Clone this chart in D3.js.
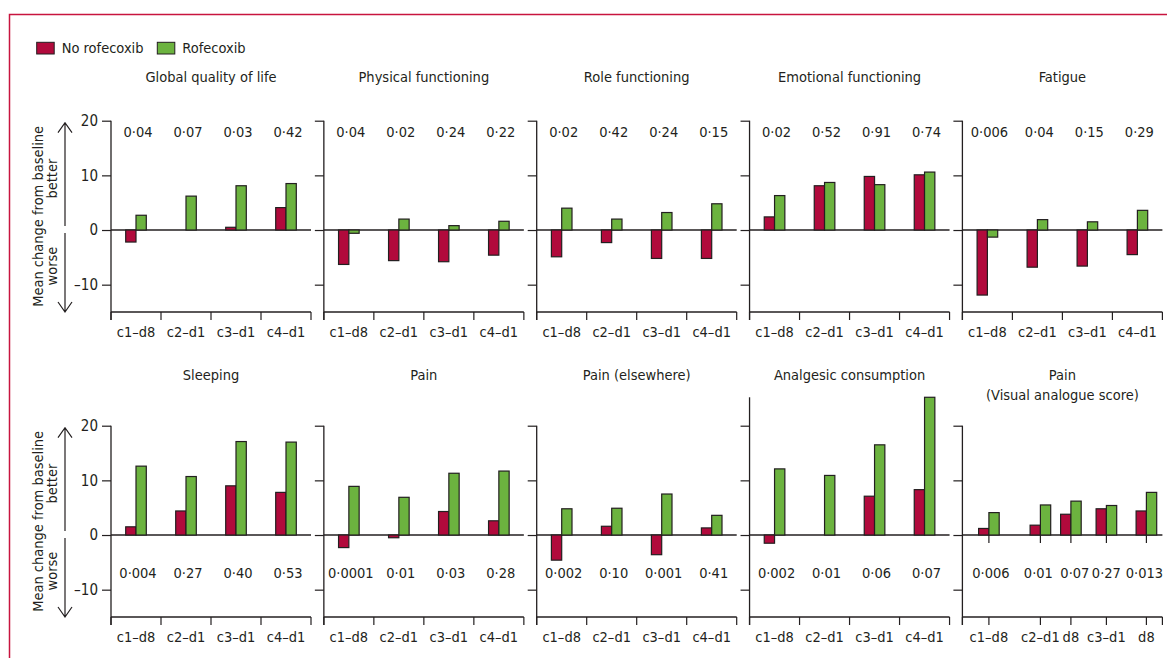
<!DOCTYPE html>
<html>
<head>
<meta charset="utf-8">
<script src="https://cdn.jsdelivr.net/npm/d3@7"></script>
<style>
  body { margin: 0; background: #fff; }
  text { font-family: "DejaVu Sans Condensed", "DejaVu Sans", sans-serif; font-stretch: condensed; font-size: 14.5px; fill: #231f20; }
</style>
</head>
<body>
<div id="chart"></div>
<script>
// categories on the x axis
const categories = ["c1–d8", "c2–d1", "c3–d1", "c4–d1"];
// the VAS panel has its own time points (position in category units, 0-4)
const vasCategories = ["c1–d8", "c2–d1", "d8", "c3–d1", "d8"];
const vasPositions = [0.53, 1.56, 2.17, 2.88, 3.68];

const titles = [
    "Global quality of life", "Physical functioning", "Role functioning", "Emotional functioning", "Fatigue",
    "Sleeping", "Pain", "Pain (elsewhere)", "Analgesic consumption", "Pain|(Visual analogue score)"
];

const noRofecoxib = [
    [-2.2, 0, 0.5, 4.1],
    [-6.3, -5.6, -5.8, -4.6],
    [-4.9, -2.3, -5.2, -5.2],
    [2.4, 8.1, 9.8, 10.1],
    [-11.9, -6.8, -6.6, -4.5],
    [1.5, 4.4, 9.0, 7.8],
    [-2.3, -0.5, 4.3, 2.6],
    [-4.6, 1.6, -3.6, 1.3],
    [-1.5, 0, 7.1, 8.3],
    [1.2, 1.8, 3.8, 4.8, 4.4]
];

const rofecoxib = [
    [2.7, 6.2, 8.1, 8.5],
    [-0.6, 2.0, 0.8, 1.6],
    [4.0, 2.0, 3.2, 4.8],
    [6.3, 8.7, 8.3, 10.6],
    [-1.3, 1.9, 1.5, 3.6],
    [12.6, 10.7, 17.1, 17.0],
    [8.9, 6.9, 11.3, 11.7],
    [4.8, 4.9, 7.5, 3.6],
    [12.1, 10.9, 16.5, 25.2],
    [4.1, 5.5, 6.2, 5.4, 7.8]
];

const pValues = [
    ["0·04", "0·07", "0·03", "0·42"],
    ["0·04", "0·02", "0·24", "0·22"],
    ["0·02", "0·42", "0·24", "0·15"],
    ["0·02", "0·52", "0·91", "0·74"],
    ["0·006", "0·04", "0·15", "0·29"],
    ["0·004", "0·27", "0·40", "0·53"],
    ["0·0001", "0·01", "0·03", "0·28"],
    ["0·002", "0·10", "0·001", "0·41"],
    ["0·002", "0·01", "0·06", "0·07"],
    ["0·006", "0·01", "0·07", "0·27", "0·013"]
];

const yTicks = [-10, 0, 10, 20];
const seriesNames = ["No rofecoxib", "Rofecoxib"];
const seriesColors = ["#b10a3c", "#6cb33f"];

const width = 1167, height = 658;
const panelWidth = 200, panelStep = 212.85, firstX = 111;
const rowOffset = [0, 305];
const titleY = [81.5, 379.5];
const pValueY = [136.7, 273];
// small horizontal nudges for the crowded VAS p values
const vasLabelNudge = [2, -2, 4, 0, -2];
const ink = "#231f20";

const svg = d3.select("#chart")
    .append("svg")
    .attr("width", width)
    .attr("height", height);

// red frame (top and left)
svg.append("path")
    .attr("d", `M9.5,${height} V14.5 H${width}`)
    .attr("fill", "none")
    .attr("stroke", "#c8143f")
    .attr("stroke-width", 1.5);

// legend
const legend = svg.append("g");
const legendX = [36.7, 157.3];
seriesNames.forEach((name, i) => {
    legend.append("rect")
        .attr("x", legendX[i]).attr("y", 42.3)
        .attr("width", 17.5).attr("height", 11.7)
        .attr("fill", seriesColors[i])
        .attr("stroke", ink).attr("stroke-width", 1);
    legend.append("text")
        .attr("x", legendX[i] + 25).attr("y", 53)
        .text(name);
});

const y = d3.scaleLinear().domain([-15, 20]).range([312, 120.7]);

titles.forEach((title, i) => {
    const row = Math.floor(i / 5), col = i % 5;
    const isVas = i === 9;
    const g = svg.append("g")
        .attr("transform", `translate(${firstX + col * panelStep},${rowOffset[row]})`);

    let centers, labels, boundaries;
    if (isVas) {
        const xl = d3.scaleLinear().domain([0, 4]).range([0, panelWidth]);
        centers = vasPositions.map(xl);
        labels = vasCategories;
        boundaries = [0, ...centers, panelWidth];
    } else {
        const band = d3.scaleBand().domain(categories).range([0, panelWidth]);
        centers = categories.map(c => band(c) + band.bandwidth() / 2);
        labels = categories;
        boundaries = categories.map(c => band(c)).concat(panelWidth);
    }

    const sub = d3.scaleBand().domain([0, 1]).range([-10.3, 10.3]);

    // title
    const lines = title.split("|");
    lines.forEach((line, k) => {
        g.append("text")
            .attr("x", panelWidth / 2)
            .attr("y", titleY[row] - rowOffset[row] + k * 20.5)
            .attr("text-anchor", "middle")
            .text(line);
    });

    // y axis
    const vals = noRofecoxib[i].concat(rofecoxib[i]);
    const top = Math.max(20, d3.max(vals));
    const yAxis = d3.axisLeft(y).tickValues(yTicks).tickSize(9).tickPadding(4)
        .tickFormat(col === 0 ? (d => d < 0 ? "–" + (-d) : d) : "");
    const ya = g.append("g").call(yAxis);
    ya.select(".domain").remove();
    ya.selectAll("line").attr("stroke", ink).attr("stroke-width", 1.2);
    ya.selectAll("text").attr("fill", ink)
        .style("font-family", "'DejaVu Sans Condensed', 'DejaVu Sans', sans-serif")
        .style("font-size", "15px");

    g.append("line")
        .attr("x1", 0).attr("x2", 0)
        .attr("y1", y(-15) + 8).attr("y2", y(top))
        .attr("stroke", ink).attr("stroke-width", 1.3);

    // zero line
    g.append("line")
        .attr("x1", 0).attr("x2", panelWidth)
        .attr("y1", y(0)).attr("y2", y(0))
        .attr("stroke", ink).attr("stroke-width", 1.3);

    if (isVas) {
        g.selectAll(".zt").data(centers).enter().append("line")
            .attr("x1", d => d).attr("x2", d => d)
            .attr("y1", y(0)).attr("y2", y(0) + 8)
            .attr("stroke", ink).attr("stroke-width", 1.2);
    }

    // x axis
    g.append("line")
        .attr("x1", 0).attr("x2", panelWidth)
        .attr("y1", y(-15)).attr("y2", y(-15))
        .attr("stroke", ink).attr("stroke-width", 1.3);
    g.selectAll(".xt").data(boundaries).enter().append("line")
        .attr("x1", d => d).attr("x2", d => d)
        .attr("y1", y(-15)).attr("y2", y(-15) + 8)
        .attr("stroke", ink).attr("stroke-width", 1.2);
    g.selectAll(".xl").data(labels).enter().append("text")
        .attr("x", (d, k) => centers[k])
        .attr("y", y(-15) + 24.5)
        .attr("text-anchor", "middle")
        .text(d => d);

    // bars
    const barData = [];
    centers.forEach((c, k) => {
        [noRofecoxib[i][k], rofecoxib[i][k]].forEach((v, s) => {
            if (v !== 0) barData.push({ c, s, v });
        });
    });
    g.selectAll(".bar").data(barData).enter().append("rect")
        .attr("x", d => d.c + sub(d.s))
        .attr("y", d => y(Math.max(0, d.v)))
        .attr("width", sub.bandwidth())
        .attr("height", d => Math.abs(y(d.v) - y(0)))
        .attr("fill", d => seriesColors[d.s])
        .attr("stroke", ink)
        .attr("stroke-width", 1.2);

    // p values
    g.selectAll(".pv").data(pValues[i]).enter().append("text")
        .attr("x", (d, k) => centers[k] + (isVas ? vasLabelNudge[k] : 2))
        .attr("y", pValueY[row])
        .attr("text-anchor", "middle")
        .text(d => d);
});

// y label and arrows for each row
rowOffset.forEach(off => {
    const g = svg.append("g").attr("transform", `translate(0,${off})`);
    g.append("text")
        .attr("transform", `translate(43.3,${(y(20) + y(-15)) / 2}) rotate(-90)`)
        .attr("text-anchor", "middle")
        .text("Mean change from baseline");
    g.append("text")
        .attr("transform", `translate(56.5,${y(9.4)}) rotate(-90)`)
        .attr("text-anchor", "middle")
        .text("better");
    g.append("text")
        .attr("transform", `translate(56.5,${y(-6.6)}) rotate(-90)`)
        .attr("text-anchor", "middle")
        .text("worse");

    const ax = 65;
    const upTip = y(20) + 2, downTip = y(-15);
    g.append("path")
        .attr("d", `M${ax},${y(0) - 4} V${upTip} M${ax - 7},${upTip + 10} L${ax},${upTip} L${ax + 7},${upTip + 10}`)
        .attr("fill", "none").attr("stroke", ink).attr("stroke-width", 1.2);
    g.append("path")
        .attr("d", `M${ax},${y(0) + 3} V${downTip} M${ax - 7},${downTip - 10} L${ax},${downTip} L${ax + 7},${downTip - 10}`)
        .attr("fill", "none").attr("stroke", ink).attr("stroke-width", 1.2);
});
</script>
</body>
</html>
